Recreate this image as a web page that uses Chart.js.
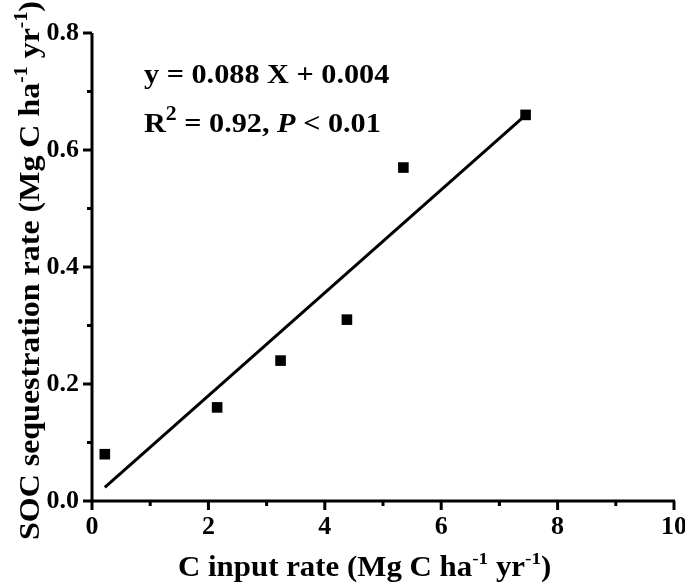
<!DOCTYPE html>
<html>
<head>
<meta charset="utf-8">
<script src="https://cdn.jsdelivr.net/npm/chart.js@4.4.0/dist/chart.umd.min.js"></script>
<style>
  html, body { margin: 0; padding: 0; background: #fff; }
  #wrap { width: 685px; height: 584px; }
</style>
</head>
<body>
<div id="wrap"><canvas id="scatterChart" width="685" height="584"></canvas></div>
<script>
// observed points (C input rate vs SOC sequestration rate)
const cInput = [0.22, 2.15, 3.24, 4.38, 5.35, 7.45];
const socRate = [0.08, 0.16, 0.24, 0.31, 0.57, 0.66];

// fitted line y = 0.088 X + 0.004, drawn over the data range
const slope = 0.088;
const intercept = 0.004;
const fitX = [0.22, 7.45];

const xTicks = [0, 2, 4, 6, 8, 10];
const yTicks = [0.0, 0.2, 0.4, 0.6, 0.8];

const FONT = "'Liberation Serif', 'Times New Roman', serif";
const STRETCH = 1.08;

const points = cInput.map((x, i) => ({ x: x, y: socRate[i] }));
const fitLine = fitX.map((x) => ({ x: x, y: slope * x + intercept }));

// draw a row of text parts: {t, sup, italic}
function drawParts(ctx, parts, x, y, size) {
  let cx = x;
  parts.forEach((p) => {
    const s = p.sup ? size * (p.big ? 0.72 : 0.62) : size;
    ctx.font = (p.italic ? "italic " : "") + "bold " + s + "px " + FONT;
    const dy = p.sup ? -size * 0.42 : 0;
    ctx.save();
    ctx.translate(cx, y + dy);
    ctx.scale(STRETCH, 1);
    ctx.fillText(p.t, 0, 0);
    ctx.restore();
    cx += ctx.measureText(p.t).width * STRETCH;
  });
  return cx - x;
}

const axisDecor = {
  id: "axisDecor",
  afterDraw(chart) {
    const ctx = chart.ctx;
    const xs = chart.scales.x;
    const ys = chart.scales.y;
    const area = chart.chartArea;
    ctx.save();
    ctx.strokeStyle = "#000";
    ctx.fillStyle = "#000";
    ctx.lineWidth = 3;
    ctx.lineCap = "butt";

    // axes
    ctx.beginPath();
    ctx.moveTo(area.left, area.top);
    ctx.lineTo(area.left, area.bottom);
    ctx.lineTo(area.right + 1, area.bottom);
    ctx.stroke();

    // x ticks (major on even, minor on odd)
    for (let v = 0; v <= 10; v += 1) {
      const px = xs.getPixelForValue(v);
      const len = v % 2 === 0 ? 9 : 5;
      ctx.beginPath();
      ctx.moveTo(px, area.bottom);
      ctx.lineTo(px, area.bottom + len);
      ctx.stroke();
    }
    // y ticks
    for (let i = 0; i <= 8; i++) {
      const py = ys.getPixelForValue(i / 10);
      const len = i % 2 === 0 ? 9 : 5;
      ctx.beginPath();
      ctx.moveTo(area.left, py);
      ctx.lineTo(area.left - len, py);
      ctx.stroke();
    }

    // equation
    ctx.textBaseline = "alphabetic";
    ctx.textAlign = "left";
    drawParts(ctx, [{ t: "y = 0.088 X + 0.004" }], 144, 83, 28);
    drawParts(ctx, [
      { t: "R" },
      { t: "2", sup: true, big: true },
      { t: " = 0.92, " },
      { t: "P", italic: true },
      { t: " < 0.01" },
    ], 144, 132, 28);

    // x title
    drawParts(ctx, [
      { t: "C input rate (Mg C ha" },
      { t: "-1", sup: true },
      { t: " yr" },
      { t: "-1", sup: true },
      { t: ")" },
    ], 178, 576, 28.6);

    // y title
    ctx.save();
    ctx.translate(39, 0);
    ctx.rotate(-Math.PI / 2);
    drawParts(ctx, [
      { t: "SOC sequestration rate (Mg C ha" },
      { t: "-1", sup: true },
      { t: " yr" },
      { t: "-1", sup: true },
      { t: ")" },
    ], -540, 0, 29.6);
    ctx.restore();

    ctx.restore();
  },
};

const ctx = document.getElementById("scatterChart").getContext("2d");

const data = {
  datasets: [
    {
      type: "line",
      label: "fit",
      data: fitLine,
      borderColor: "#000",
      borderWidth: 3,
      pointRadius: 0,
      fill: false,
      tension: 0,
    },
    {
      type: "scatter",
      label: "observed",
      data: points,
      backgroundColor: "#000",
      borderColor: "#000",
      borderWidth: 0,
      pointStyle: "rect",
      pointRadius: 7.5,
    },
  ],
};

const options = {
  responsive: false,
  animation: false,
  layout: { padding: { left: 0, right: 11, top: 33, bottom: 0 } },
  plugins: {
    legend: { display: false },
    tooltip: { enabled: false },
    title: { display: false },
  },
  scales: {
    x: {
      type: "linear",
      min: 0,
      max: 10,
      afterBuildTicks: (s) => { s.ticks = xTicks.map((v) => ({ value: v })); },
      afterFit: (s) => { s.height = 83; s.paddingLeft = 0; s.paddingRight = 0; },
      grid: { display: false, drawTicks: false },
      border: { display: false },
      ticks: {
        padding: 11,
        color: "#000",
        font: { family: FONT, size: 26, weight: "bold" },
        callback: (v) => String(v),
      },
    },
    y: {
      type: "linear",
      min: 0,
      max: 0.8,
      afterBuildTicks: (s) => { s.ticks = yTicks.map((v) => ({ value: v })); },
      afterFit: (s) => { s.width = 92; s.paddingTop = 0; s.paddingBottom = 0; },
      grid: { display: false, drawTicks: false },
      border: { display: false },
      ticks: {
        padding: 13,
        color: "#000",
        font: { family: FONT, size: 26, weight: "bold" },
        callback: (v) => v.toFixed(1),
      },
    },
  },
};

const scatterChart = new Chart(ctx, {
  type: "scatter",
  data: data,
  options: options,
  plugins: [axisDecor],
});
</script>
</body>
</html>
